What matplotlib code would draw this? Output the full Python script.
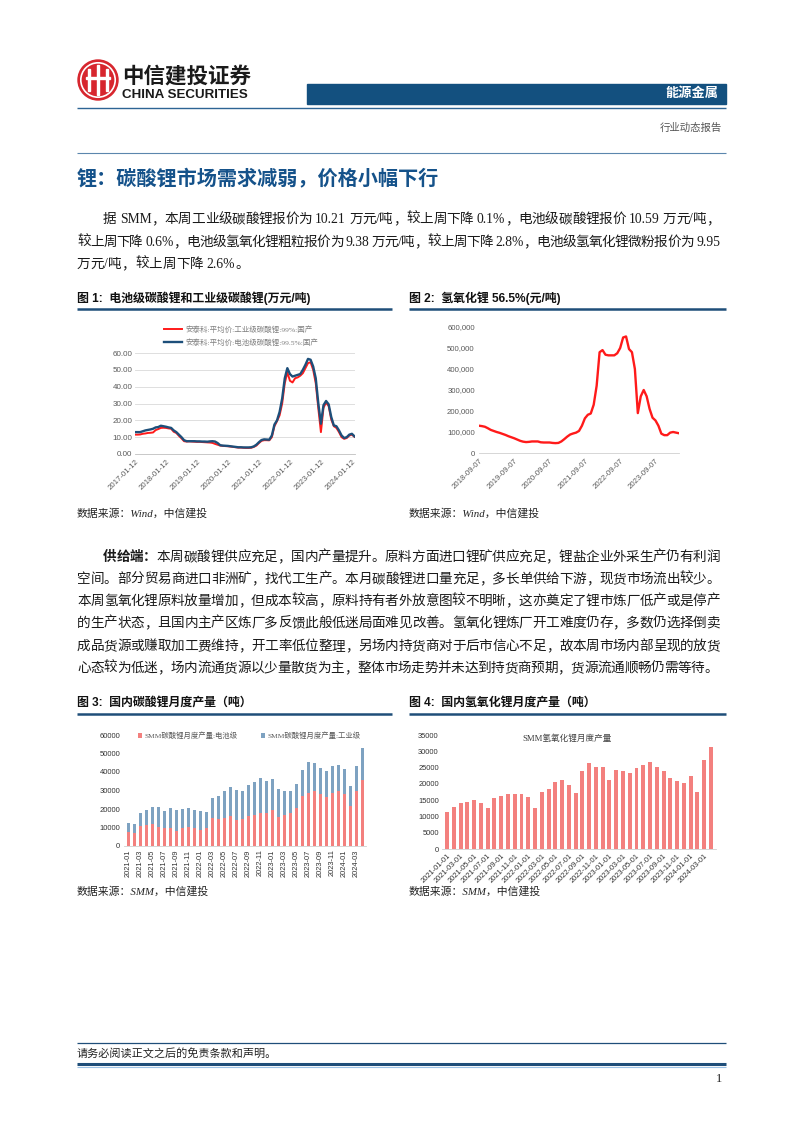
import re
import numpy as np
import pandas as pd
import matplotlib
matplotlib.use('Agg')
import matplotlib.pyplot as plt
from matplotlib.patches import Rectangle, Circle, Patch
from matplotlib.lines import Line2D

W, H = 802, 1133
CJK = 'Noto Sans CJK SC'
SERIF = ['Liberation Serif', CJK]
SANS = ['Liberation Sans', CJK]
plt.rcParams['font.family'] = [CJK, 'DejaVu Sans']

# ---------------- data ----------------
# Fig 1: monthly lithium carbonate prices (万元/吨), from 2017-01
c1_ticks = ['2017-01-12', '2018-01-12', '2019-01-12', '2020-01-12',
            '2021-01-12', '2022-01-12', '2023-01-12', '2024-01-12']
c1_battery = [13.0, 13.0, 13.0, 13.5, 14.0, 14.3, 14.6, 15.0, 15.8, 16.0, 16.8, 16.5,
              16.2, 15.8, 15.5, 14.0, 13.0, 11.5, 10.0, 8.2, 7.6, 7.6, 7.6, 7.6,
              7.5, 7.5, 7.4, 7.4, 7.3, 7.5, 7.6, 7.4, 6.5, 5.2, 5.0, 4.9,
              4.8, 4.6, 4.4, 4.2, 4.0, 4.0, 3.9, 3.9, 3.9, 4.0, 4.5, 5.5,
              7.0, 8.3, 8.7, 8.6, 8.5, 11.0, 17.5, 20.0, 25.0, 33.0, 45.0, 51.0,
              47.5, 46.0, 46.5, 47.0, 47.5, 50.0, 53.0, 56.5, 56.0, 52.0, 45.0, 30.0,
              18.0, 29.0, 31.5, 29.5, 22.0, 17.0, 16.5, 14.0, 11.0, 9.5, 10.0, 11.5,
              12.0, 10.5]
c1_industrial = [11.5, 11.5, 11.6, 12.0, 12.2, 12.5, 12.6, 12.8, 14.2, 14.8, 15.5, 15.6,
                 15.5, 15.2, 15.0, 13.2, 12.5, 10.8, 9.3, 7.6, 7.4, 7.5, 7.4, 7.3,
                 7.2, 7.2, 7.1, 7.0, 6.9, 6.8, 6.6, 6.0, 5.5, 5.0, 4.8, 4.7,
                 4.6, 4.4, 4.2, 4.0, 3.8, 3.8, 3.7, 3.6, 3.6, 3.7, 4.2, 5.0,
                 6.5, 7.8, 8.2, 8.2, 8.1, 10.0, 16.5, 19.5, 23.0, 30.0, 42.0, 48.5,
                 43.5, 42.5, 45.0, 45.5, 46.5, 48.0, 51.0, 54.0, 54.5, 50.0, 42.0, 27.0,
                 13.0, 27.5, 30.5, 28.5, 20.5, 16.5, 15.5, 13.0, 10.0, 9.0, 9.5, 11.0,
                 11.5, 10.2]
c1_labels = ['安泰科:平均价:工业级碳酸锂:99%:国产', '安泰科:平均价:电池级碳酸锂:99.5%:国产']

# Fig 2: monthly lithium hydroxide 56.5% price (元/吨), from 2018-09
c2_ticks = ['2018-09-07', '2019-09-07', '2020-09-07', '2021-09-07', '2022-09-07', '2023-09-07']
c2_price = [130000, 128000, 125000, 118000, 110000, 105000, 100000, 96000, 91000, 86000,
            80000, 75000, 70000, 64000, 58000, 54000, 52000, 53000, 55000, 55000,
            55000, 51000, 50000, 50000, 50000, 48000, 47000, 48000, 55000, 66000,
            78000, 88000, 93000, 97000, 105000, 130000, 165000, 182000, 188000, 230000,
            320000, 480000, 490000, 468000, 465000, 465000, 465000, 475000, 500000, 550000,
            555000, 495000, 480000, 400000, 190000, 270000, 300000, 270000, 210000, 168000,
            155000, 130000, 92000, 85000, 85000, 97000, 100000, 97000, 94000]

# Fig 3/4: monthly output (吨), 2021-01 .. 2024-04
months = [f'{y}-{m:02d}' for y in (2021, 2022, 2023, 2024) for m in range(1, 13)][:40]
c3_battery = [7500, 7000, 11000, 11500, 12000, 10500, 9500, 9500, 8000, 10000,
              10500, 9500, 8500, 9500, 15000, 14500, 15000, 16000, 14000, 14500,
              16000, 16500, 18000, 18000, 19500, 15500, 17000, 18000, 20500, 27000,
              28500, 29500, 28000, 26500, 28500, 30000, 28000, 21500, 29500, 35500]
c3_industrial = [5000, 5000, 7000, 8000, 9000, 10500, 9500, 11000, 11500, 10000,
                 10000, 10000, 10500, 9000, 11000, 12500, 14500, 16000, 16500, 15500,
                 17000, 18000, 19000, 17000, 16500, 15500, 13000, 11500, 13000, 14000,
                 17000, 15500, 14000, 14000, 14500, 14000, 13500, 11000, 13500, 17500]
c3_labels = ['SMM碳酸锂月度产量:电池级', 'SMM碳酸锂月度产量:工业级']
c4_output = [11500, 13000, 14000, 14500, 15000, 14200, 12700, 15700, 16300, 16800,
             16800, 17000, 16000, 12700, 17500, 18500, 20500, 21200, 19700, 17200,
             24100, 26300, 25100, 25100, 21200, 24400, 23900, 23400, 25000, 25700,
             26600, 25200, 24000, 21900, 20800, 20200, 22300, 17500, 27300, 31300]
c4_title = 'SMM氢氧化锂月度产量'

# ---------------- page ----------------
fig = plt.figure(figsize=(W / 100, H / 100), dpi=100)
renderer = fig.canvas.get_renderer()


def fx(x):
    return x / W


def fy(y):
    return 1 - y / H


def rect(x0, y0, x1, y1):
    return [x0 / W, 1 - y1 / H, (x1 - x0) / W, (y1 - y0) / H]


def hline(y, x0, x1, color, lw):
    fig.add_artist(Line2D([fx(x0), fx(x1)], [fy(y), fy(y)], transform=fig.transFigure,
                          color=color, lw=lw, solid_capstyle='butt'))


def tw(s, size, weight, family):
    t = fig.text(0, 0, s, fontsize=size, fontweight=weight, family=family)
    w = t.get_window_extent(renderer).width
    t.remove()
    return w


def jline(y, x0, x1, segs, size=9.8, justify=True, color='#1a1a1a'):
    em = size * 100 / 72
    toks = []
    for s, wt in segs:
        for m in re.finditer(r'[A-Za-z0-9.%/]+|\s|.', s):
            toks.append((m.group(), wt))
    widths = []
    for t, wt in toks:
        if t == ' ':
            widths.append(em * 0.25)
        elif len(t) == 1 and ord(t) > 127:
            widths.append(em)
        else:
            widths.append(tw(t, size, wt, SERIF))
    total = sum(widths)
    extra = (x1 - x0 - total) / (len(toks) - 1) if justify and len(toks) > 1 else 0
    x = x0
    yb = y + 0.36 * em
    for (t, wt), w in zip(toks, widths):
        if t != ' ':
            fig.text(fx(x), fy(yb), t, fontsize=size, fontweight=wt, family=SERIF,
                     va='baseline', ha='left', color=color)
        x += w + extra


# logo
logo = fig.add_axes(rect(76, 58, 120, 102))
logo.set_xlim(-1.1, 1.1)
logo.set_ylim(-1.1, 1.1)
logo.set_aspect('equal')
logo.axis('off')
logo.add_patch(Circle((0, 0), 1.0, color='#d7262e'))
logo.add_patch(Circle((0, 0), 0.86, fill=False, ec='white', lw=1.2))
for xo, hh in [(-0.45, 0.55), (0.0, 0.75), (0.45, 0.55)]:
    logo.add_patch(Rectangle((xo - 0.07, -hh), 0.14, 2 * hh, color='white'))
logo.add_patch(Rectangle((-0.62, 0.05), 1.24, 0.1, color='white'))
fig.text(fx(122), fy(76), '中信建投证券', fontsize=15.5, fontweight='bold', color='#1a1a1a',
         va='center', ha='left', family=[CJK])
fig.text(fx(122), fy(95), 'CHINA SECURITIES', fontsize=9.6, fontweight='bold', color='#1a1a1a',
         va='center', ha='left', family=['Liberation Sans Narrow', 'Liberation Sans'])

# header bar
fig.add_artist(Rectangle((fx(307), fy(104)), (726 - 307) / W, 20 / H, transform=fig.transFigure,
                         color='#13507f'))
fig.text(fx(718), fy(93), '能源金属', fontsize=9.5, fontweight='bold', color='white',
         va='center', ha='right')
hline(107.5, 77, 726, '#2d6494', 1.0)
fig.text(fx(722), fy(128), '行业动态报告', fontsize=7.5, color='#555555', va='center', ha='right',
         family=SERIF)
hline(153, 77, 726, '#5b86ad', 0.8)

# heading
fig.text(fx(77), fy(179), '锂：碳酸锂市场需求减弱，价格小幅下行', fontsize=14.5, fontweight='bold',
         color='#15528a', va='center', ha='left')

# paragraph 1
jline(218, 103, 720, [('据 SMM，本周工业级碳酸锂报价为 10.21 万元/吨，较上周下降 0.1%，电池级碳酸锂报价 10.59 万元/吨，', 'normal')])
jline(241, 77, 720, [('较上周下降 0.6%，电池级氢氧化锂粗粒报价为 9.38 万元/吨，较上周下降 2.8%，电池级氢氧化锂微粉报价为 9.95', 'normal')])
jline(263, 77, 720, [('万元/吨，较上周下降 2.6%。', 'normal')], justify=False)

# figure titles
def fig_title(x0, x1, y, text):
    fig.text(fx(x0), fy(y), text, fontsize=8.6, fontweight='bold', color='#111111',
             va='center', ha='left', family=SANS)
    hline(y + 11, x0, x1, '#1f4e79', 1.8)


fig_title(77, 392, 298, '图 1:  电池级碳酸锂和工业级碳酸锂(万元/吨)')
fig_title(409, 726, 298, '图 2:  氢氧化锂 56.5%(元/吨)')
fig_title(77, 392, 703, '图 3:  国内碳酸锂月度产量（吨）')
fig_title(409, 726, 703, '图 4:  国内氢氧化锂月度产量（吨）')


def source(x, y, text):
    fig.text(fx(x), fy(y), text, fontsize=7.8, style='italic', color='#222222',
             va='center', ha='left', family=SERIF)


source(77, 513, '数据来源：Wind，中信建投')
source(409, 513, '数据来源：Wind，中信建投')
source(77, 891, '数据来源：SMM，中信建投')
source(409, 891, '数据来源：SMM，中信建投')

GRAY = '#595959'

# ---- chart 1 ----
ax1 = fig.add_axes(rect(135, 353, 355, 454))
x1 = np.arange(len(c1_battery))
ax1.plot(x1, c1_industrial, color='#ff1a1a', lw=1.4, label=c1_labels[0], zorder=3)
ax1.plot(x1, c1_battery, color='#1d4f7a', lw=1.7, label=c1_labels[1], zorder=4)
ax1.set_ylim(0, 60)
ax1.set_xlim(0, len(c1_battery) - 0.8)
ax1.set_yticks(np.arange(0, 61, 10))
ax1.set_yticklabels([f'{v:.2f}' for v in np.arange(0, 61, 10)], fontsize=5.8, color=GRAY,
                    family=SANS)
ax1.set_xticks(np.arange(0, 85, 12))
ax1.set_xticklabels(c1_ticks, rotation=45, ha='right', rotation_mode='anchor', fontsize=5.6,
                    color=GRAY, family=SANS)
ax1.grid(axis='y', color='#d9d9d9', lw=0.6)
ax1.set_axisbelow(True)
for s in ['top', 'right', 'left']:
    ax1.spines[s].set_visible(False)
ax1.spines['bottom'].set_color('#bfbfbf')
ax1.spines['bottom'].set_linewidth(0.6)
ax1.tick_params(axis='both', length=0, pad=2)
ax1.tick_params(axis='x', pad=3)
ax1.legend(loc='upper left', bbox_to_anchor=(fx(160), fy(321)), bbox_transform=fig.transFigure,
           frameon=False, handlelength=2.4, labelspacing=0.75, borderpad=0, handletextpad=0.5,
           prop={'family': SERIF, 'size': 5.4}, labelcolor='#7f7f7f')

# ---- chart 2 ----
ax2 = fig.add_axes(rect(479, 327, 679, 453))
x2 = np.arange(len(c2_price))
ax2.plot(x2, c2_price, color='#ff1a1a', lw=1.7)
ax2.set_ylim(0, 600000)
ax2.set_xlim(0, len(c2_price) - 1)
yt2 = np.arange(0, 600001, 100000)
ax2.set_yticks(yt2)
ax2.set_yticklabels([f'{v:,}' for v in yt2], fontsize=5.6, color=GRAY, family=SANS)
ax2.set_xticks(np.arange(0, 61, 12))
ax2.set_xticklabels(c2_ticks, rotation=45, ha='right', rotation_mode='anchor', fontsize=5.6,
                    color=GRAY, family=SANS)
for s in ['top', 'right', 'left']:
    ax2.spines[s].set_visible(False)
ax2.spines['bottom'].set_color('#d0d0d0')
ax2.spines['bottom'].set_linewidth(0.6)
ax2.tick_params(axis='both', length=0, pad=3)

# ---- chart 3 ----
PINK = '#f3807e'
BLUE = '#7ea2c1'
ax3 = fig.add_axes(rect(123.8, 735, 366.2, 846))
x3 = np.arange(len(months))
ax3.bar(x3, c3_battery, width=0.5, color=PINK, label=c3_labels[0])
ax3.bar(x3, c3_industrial, width=0.5, bottom=c3_battery, color=BLUE, label=c3_labels[1])
ax3.set_xlim(-0.7, len(months) - 0.3)
ax3.set_ylim(0, 60000)
ax3.set_yticks(np.arange(0, 60001, 10000))
ax3.set_yticklabels([str(v) for v in range(0, 60001, 10000)], fontsize=5.5, color='#333333',
                    family=SANS)
ax3.set_xticks(x3[::2])
ax3.set_xticklabels(months[::2], rotation=90, fontsize=5.4, color='#333333', family=SANS)
for s in ['top', 'right', 'left']:
    ax3.spines[s].set_visible(False)
ax3.spines['bottom'].set_color('#d0d0d0')
ax3.spines['bottom'].set_linewidth(0.6)
ax3.tick_params(axis='both', length=0, pad=2.5)
ax3.legend(loc='center left', bbox_to_anchor=(fx(134), fy(735)), bbox_transform=fig.transFigure,
           ncol=2, frameon=False, handlelength=0.6, handleheight=0.6, handletextpad=0.3,
           columnspacing=3.2, borderpad=0, prop={'family': SERIF, 'size': 5.3},
           labelcolor='#595959')

# ---- chart 4 ----
ax4 = fig.add_axes(rect(442.3, 735, 715.7, 849))
x4 = np.arange(len(months))
ax4.bar(x4, c4_output, width=0.58, color=PINK)
ax4.set_xlim(-0.7, len(months) - 0.3)
ax4.set_ylim(0, 35000)
ax4.set_yticks(np.arange(0, 35001, 5000))
ax4.set_yticklabels([str(v) for v in range(0, 35001, 5000)], fontsize=5.4, color='#333333',
                    family=SANS)
ax4.set_xticks(x4[::2])
ax4.set_xticklabels([m + '-01' for m in months[::2]], rotation=45, ha='right',
                    rotation_mode='anchor', fontsize=5.4, color='#333333', family=SANS)
for s in ['top', 'right', 'left']:
    ax4.spines[s].set_visible(False)
ax4.spines['bottom'].set_color('#d0d0d0')
ax4.spines['bottom'].set_linewidth(0.6)
ax4.tick_params(axis='both', length=0, pad=2.5)
fig.text(fx(567), fy(739), c4_title, fontsize=6.2, color='#404040', ha='center', va='center',
         family=SERIF)

# paragraph 2
jline(556, 103, 720, [('供给端：', 'bold'), ('本周碳酸锂供应充足，国内产量提升。原料方面进口锂矿供应充足，锂盐企业外采生产仍有利润', 'normal')])
jline(578, 77, 720, [('空间。部分贸易商进口非洲矿，找代工生产。本月碳酸锂进口量充足，多长单供给下游，现货市场流出较少。', 'normal')])
jline(600, 77, 720, [('本周氢氧化锂原料放量增加，但成本较高，原料持有者外放意图较不明晰，这亦奠定了锂市炼厂低产或是停产', 'normal')])
jline(622, 77, 720, [('的生产状态，且国内主产区炼厂多反馈此般低迷局面难见改善。氢氧化锂炼厂开工难度仍存，多数仍选择倒卖', 'normal')])
jline(645, 77, 720, [('成品货源或赚取加工费维持，开工率低位整理，另场内持货商对于后市信心不足，故本周市场内部呈现的放货', 'normal')])
jline(667, 77, 718, [('心态较为低迷，场内流通货源以少量散货为主，整体市场走势并未达到持货商预期，货源流通顺畅仍需等待。', 'normal')])

# footer
hline(1043, 77, 726, '#1f4e79', 0.9)
fig.text(fx(77), fy(1053), '请务必阅读正文之后的免责条款和声明。', fontsize=8, color='#222222',
         va='center', ha='left', family=SERIF)
hline(1064, 77, 726, '#1f4e79', 2.2)
hline(1066.5, 77, 726, '#9dc3e6', 0.8)
fig.text(fx(722), fy(1079), '1', fontsize=9, color='#222222', va='center', ha='right',
         family=SERIF)

fig.savefig('out.png', dpi=100)
